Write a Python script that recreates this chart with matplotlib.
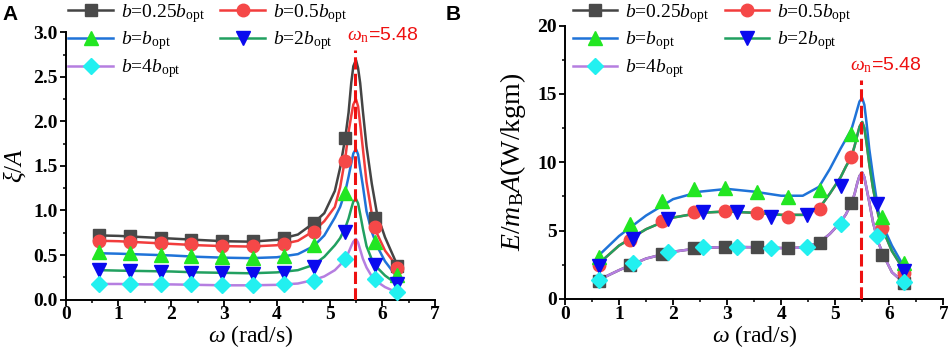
import matplotlib
matplotlib.use("Agg")
from matplotlib import pyplot as plt
from matplotlib.ticker import MultipleLocator, FormatStrFormatter

plt.rcParams['font.family'] = ['Liberation Serif', 'DejaVu Serif']
plt.rcParams['mathtext.fontset'] = 'custom'
plt.rcParams['mathtext.rm'] = 'Liberation Serif'
plt.rcParams['mathtext.it'] = 'Liberation Serif:italic'
plt.rcParams['mathtext.bf'] = 'Liberation Serif:bold'

# frequencies of the sampled points (rad/s)
w_pts = [0.63, 1.21, 1.8, 2.38, 2.96, 3.55, 4.13, 4.71, 5.29, 5.87, 6.28]
w_pts_b = [0.63, 1.26, 1.91, 2.55, 3.19, 3.82, 4.47, 5.10, 5.77, 6.28]
# frequencies used to trace the smooth curves
w_line = [0.63, 1.0, 1.5, 2.0, 2.5, 3.0, 3.5, 4.0, 4.4, 4.7, 4.9, 5.1, 5.2, 5.3, 5.36,
          5.41, 5.45, 5.5, 5.54, 5.58, 5.63, 5.7, 5.8, 5.9, 6.05, 6.28]
w_n = 5.48

labels = [r'$b$=0.25$b_{\mathrm{opt}}$', r'$b$=0.5$b_{\mathrm{opt}}$',
          r'$b$=$b_{\mathrm{opt}}$', r'$b$=2$b_{\mathrm{opt}}$',
          r'$b$=4$b_{\mathrm{opt}}$']

# panel A: xi/A
xi_line_025 = [0.72, 0.715, 0.70, 0.685, 0.67, 0.655, 0.65, 0.67, 0.73, 0.86, 0.97, 1.22, 1.48,
               1.83, 2.10, 2.43, 2.62, 2.69, 2.60, 2.43, 2.12, 1.72, 1.30, 0.96, 0.70, 0.39]
xi_line_05 = [0.66, 0.655, 0.64, 0.625, 0.61, 0.60, 0.595, 0.61, 0.66, 0.77, 0.88, 1.04, 1.26,
              1.60, 1.88, 2.06, 2.19, 2.25, 2.17, 1.97, 1.70, 1.32, 0.96, 0.74, 0.55, 0.37]
xi_line_1 = [0.52, 0.515, 0.505, 0.495, 0.48, 0.47, 0.465, 0.475, 0.51, 0.60, 0.72, 0.92, 1.04,
             1.22, 1.38, 1.53, 1.64, 1.69, 1.63, 1.47, 1.28, 0.99, 0.76, 0.60, 0.43, 0.25]
xi_line_2 = [0.33, 0.325, 0.32, 0.315, 0.305, 0.30, 0.295, 0.305, 0.33, 0.39, 0.48, 0.61, 0.69,
             0.81, 0.91, 1.02, 1.10, 1.13, 1.08, 0.96, 0.80, 0.60, 0.45, 0.36, 0.27, 0.17]
xi_line_4 = [0.175, 0.175, 0.17, 0.17, 0.165, 0.16, 0.16, 0.165, 0.18, 0.22, 0.26, 0.33, 0.39,
             0.46, 0.53, 0.60, 0.65, 0.68, 0.64, 0.56, 0.46, 0.36, 0.26, 0.20, 0.14, 0.08]

xi_pts_025 = [0.72, 0.71, 0.69, 0.67, 0.66, 0.66, 0.69, 0.86, 1.81, 0.92, 0.38]
xi_pts_05 = [0.66, 0.65, 0.63, 0.62, 0.60, 0.60, 0.62, 0.76, 1.56, 0.82, 0.35]
xi_pts_1 = [0.53, 0.52, 0.50, 0.49, 0.48, 0.47, 0.49, 0.61, 1.20, 0.645, 0.275]
xi_pts_2 = [0.33, 0.32, 0.31, 0.30, 0.30, 0.29, 0.30, 0.37, 0.76, 0.39, 0.18]
xi_pts_4 = [0.18, 0.175, 0.17, 0.17, 0.16, 0.16, 0.17, 0.21, 0.45, 0.23, 0.09]

# panel B: E/(m_B A); b=0.5/2 and b=0.25/4 share a curve
E_line_1 = [3.2, 4.6, 6.1, 7.3, 7.85, 8.05, 7.85, 7.55, 7.55, 8.2, 9.5, 11.0, 11.7,
            12.4, 13.2, 13.9, 14.45, 14.7, 14.2, 12.9, 11.0, 9.0, 6.4, 5.2, 3.9, 2.3]
E_line_05_2 = [2.6, 3.9, 5.1, 5.95, 6.3, 6.4, 6.3, 6.15, 6.15, 6.6, 7.7, 8.9, 9.7,
               10.4, 11.2, 12.0, 12.6, 12.95, 12.5, 11.45, 9.9, 8.1, 6.1, 4.9, 3.5, 2.05]
E_line_025_4 = [1.4, 2.1, 2.95, 3.45, 3.72, 3.8, 3.78, 3.72, 3.75, 4.1, 4.75, 5.6, 6.2,
                7.0, 7.7, 8.5, 9.0, 9.25, 8.9, 8.1, 7.1, 5.6, 4.1, 3.15, 1.95, 1.15]

E_pts_025 = [1.33, 2.49, 3.27, 3.75, 3.83, 3.80, 3.70, 4.07, 7.04, 3.22, 1.16]
E_pts_05 = [2.49, 4.31, 5.69, 6.37, 6.46, 6.25, 6.0, 6.56, 10.36, 5.16, 1.89]
E_pts_1 = [3.10, 5.45, 7.14, 8.06, 8.11, 7.82, 7.46, 7.94, 12.06, 6.0, 2.61]
E_pts_2 = [2.37, 4.38, 5.88, 6.37, 6.37, 6.0, 6.12, 8.26, 6.97, 2.06]
E_pts_4 = [1.40, 2.61, 3.46, 3.83, 3.83, 3.75, 3.83, 5.45, 4.62, 1.23]

line_colors = ['#444444', '#f23c3c', '#1f73d8', '#21a060', '#b57ee0']
mk_colors = ['#4a4a4a', '#f54848', '#22e622', '#0a0aee', '#22f0f0']
markers = ['s', 'o', '^', 'v', 'D']
msizes = [8.5, 9, 10, 10, 8.5]


def style_axes(ax, ymax, ymaj):
    ax.spines['top'].set_visible(False)
    ax.spines['right'].set_visible(False)
    ax.spines['left'].set_linewidth(1.4)
    ax.spines['bottom'].set_linewidth(1.4)
    ax.set_xlim(0, 7)
    ax.set_ylim(0, ymax)
    ax.xaxis.set_major_locator(MultipleLocator(1))
    ax.xaxis.set_minor_locator(MultipleLocator(0.5))
    ax.yaxis.set_major_locator(MultipleLocator(ymaj))
    ax.yaxis.set_minor_locator(MultipleLocator(ymaj / 2))
    ax.tick_params(which='major', direction='out', length=4, width=1.3, labelsize=14, pad=2)
    ax.tick_params(which='minor', direction='out', length=2.5, width=1.1)
    ax.tick_params(axis='x', pad=1)
    ax.set_xlabel(r'$\omega$ (rad/s)', fontsize=17, labelpad=0)


def bold_ticks(ax):
    for lab in ax.get_xticklabels() + ax.get_yticklabels():
        lab.set_fontweight('bold')


def draw_series(ax, xl, yl, xp, yp, i):
    ax.plot(xl, yl, color=line_colors[i], lw=1.8)
    ax.plot(xp, yp, ls='none', marker=markers[i], ms=msizes[i],
            color=mk_colors[i], mec=mk_colors[i], zorder=3)
    proxy, = ax.plot([], [], color=line_colors[i], lw=1.8, marker=markers[i],
                     ms=msizes[i], mfc=mk_colors[i], mec=mk_colors[i])
    return proxy


def add_legend(ax, handles, x, y):
    order = [0, 2, 4, 1, 3]
    ax.legend([handles[k] for k in order], [labels[k] for k in order],
              ncol=2, frameon=False, fontsize=14, loc='upper left',
              bbox_to_anchor=(x, y), bbox_transform=ax.figure.transFigure,
              handlelength=2.3, handletextpad=0.4, columnspacing=0.8,
              labelspacing=0.25, borderaxespad=0, borderpad=0)


fig = plt.figure(figsize=(9.48, 3.52), dpi=100)

# ---- panel A
ax1 = fig.add_axes([0.0693, 0.149, 0.3897, 0.759])
xi_lines = [xi_line_025, xi_line_05, xi_line_1, xi_line_2, xi_line_4]
xi_pts = [xi_pts_025, xi_pts_05, xi_pts_1, xi_pts_2, xi_pts_4]
hs = []
for i in range(5):
    hs.append(draw_series(ax1, w_line, xi_lines[i], w_pts, xi_pts[i], i))
ax1.plot([w_n, w_n], [0, 2.8], color='#ee1111', lw=2.2, ls=(0, (4, 1.4)), zorder=4)
ax1.text(w_n - 0.15, 2.86, r'$\omega_{\mathrm{n}}$=5.48', color='#ee1111', fontsize=14,
         family=['Liberation Sans', 'DejaVu Sans'], va='bottom', ha='left')
style_axes(ax1, 3.0, 0.5)
ax1.yaxis.set_major_formatter(FormatStrFormatter('%.1f'))
bold_ticks(ax1)
ax1.set_ylabel(r'$\xi/A$', fontsize=18)
ax1.yaxis.set_label_coords(-0.102, 0.5)
add_legend(ax1, hs, 0.072, 0.995)

# ---- panel B
ax2 = fig.add_axes([0.596, 0.151, 0.399, 0.776])
E_lines = [E_line_025_4, E_line_05_2, E_line_1, E_line_05_2, E_line_025_4]
E_pts = [E_pts_025, E_pts_05, E_pts_1, E_pts_2, E_pts_4]
E_x = [w_pts, w_pts, w_pts, w_pts_b, w_pts_b]
hs2 = []
for i in range(5):
    hs2.append(draw_series(ax2, w_line, E_lines[i], E_x[i], E_pts[i], i))
ax2.plot([w_n, w_n], [0, 16.0], color='#ee1111', lw=2.2, ls=(0, (4, 1.4)), zorder=4)
ax2.text(w_n - 0.2, 16.4, r'$\omega_{\mathrm{n}}$=5.48', color='#ee1111', fontsize=14,
         family=['Liberation Sans', 'DejaVu Sans'], va='bottom', ha='left')
style_axes(ax2, 20, 5)
bold_ticks(ax2)
ax2.set_ylabel(r'$E/m_{\mathrm{B}}A$(W/kgm)', fontsize=20)
ax2.yaxis.set_label_coords(-0.097, 0.5)
add_legend(ax2, hs2, 0.604, 0.995)

fig.text(0.003, 0.985, 'A', fontsize=15, fontweight='bold', va='top',
         family=['Liberation Sans', 'DejaVu Sans'])
fig.text(0.470, 0.985, 'B', fontsize=15, fontweight='bold', va='top',
         family=['Liberation Sans', 'DejaVu Sans'])

fig.savefig('out.png', dpi=100)
